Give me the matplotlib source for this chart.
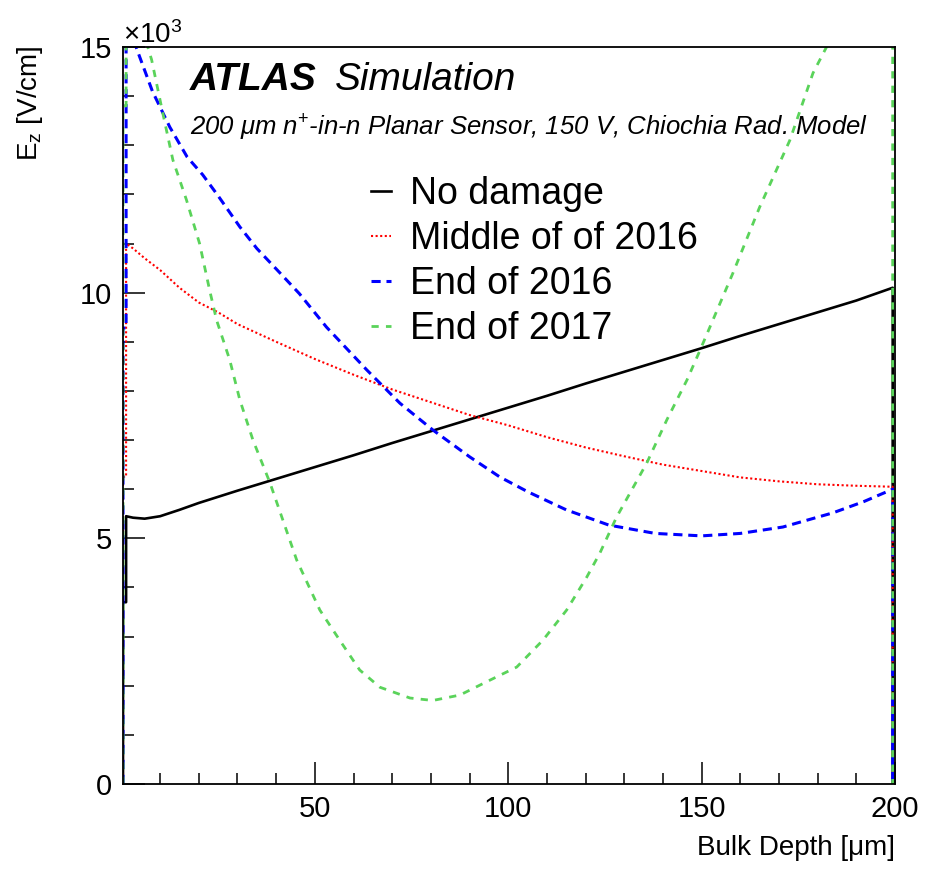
import matplotlib
matplotlib.use("Agg")
import matplotlib.pyplot as plt
from matplotlib.lines import Line2D

plt.rcParams['font.family'] = ['Liberation Sans', 'DejaVu Sans']
plt.rcParams['mathtext.fontset'] = 'custom'
plt.rcParams['mathtext.rm'] = 'Liberation Sans'
plt.rcParams['mathtext.it'] = 'Liberation Sans:italic'
plt.rcParams['mathtext.bf'] = 'Liberation Sans:bold'

# E_z in units of 10^3 V/cm
# first (narrow) bin value, then points along the bulk depth
edge_lo = 0.4
edge_1 = 1.2
edge_hi = 199.4

nodmg_first = 3.7
nodmg_depth = [1.2, 3, 6, 10, 15, 20, 30, 40, 50, 60, 70, 80, 90, 100, 110, 120,
               130, 140, 150, 160, 170, 180, 190, 199.4]
nodmg_ez = [5.45, 5.42, 5.40, 5.45, 5.58, 5.72, 5.97, 6.21, 6.45, 6.69, 6.94, 7.18,
            7.42, 7.66, 7.90, 8.15, 8.39, 8.63, 8.87, 9.12, 9.36, 9.60, 9.84, 10.1]

mid16_first = 6.25
mid16_depth = [1.2, 3, 6, 10, 15, 20, 25, 30, 40, 50, 60, 70, 80, 90, 100, 110,
               120, 130, 140, 150, 160, 170, 180, 190, 199.4]
mid16_ez = [11.0, 10.9, 10.7, 10.46, 10.1, 9.8, 9.6, 9.36, 9.0, 8.65, 8.33, 8.03,
            7.77, 7.51, 7.3, 7.06, 6.85, 6.67, 6.5, 6.37, 6.24, 6.16, 6.1, 6.07, 6.05]

end16_first = 9.28
end16_depth = [1.2, 4, 8, 12.5, 17, 21, 25, 30.6, 35, 41, 46, 53, 63.4, 72, 80.6,
               90, 97.8, 105, 115, 126, 138, 150, 160, 171, 184, 192, 199.4]
end16_ez = [15.6, 14.95, 14.1, 13.37, 12.76, 12.4, 11.97, 11.34, 10.9, 10.4, 9.98,
            9.3, 8.43, 7.75, 7.2, 6.66, 6.25, 5.95, 5.58, 5.27, 5.1, 5.05, 5.1,
            5.23, 5.52, 5.75, 6.0]

end17_first = 13.8
end17_depth = [1.2, 4, 6.8, 7.8, 10.7, 13.3, 16.8, 20.2, 22.8, 24.6, 28, 30.6, 34,
               38.4, 45.3, 51.3, 56.4, 61.6, 66.8, 74.6, 80.5, 87.5, 94.4, 102.2,
               109, 115.1, 120.3, 123.7, 128, 135.8, 141, 146.2, 149.6, 158.1, 165,
               172.8, 178.8, 182.3, 190, 199.4]
end17_ez = [18.0, 16.5, 15.0, 14.74, 13.65, 12.7, 11.89, 11.0, 10.05, 9.44, 8.63,
            7.82, 7.0, 6.13, 4.56, 3.54, 2.93, 2.32, 1.97, 1.75, 1.70, 1.81, 2.08,
            2.38, 2.93, 3.54, 4.21, 4.7, 5.43, 6.53, 7.41, 8.22, 8.83, 10.4, 11.74,
            13.1, 14.47, 15.0, 16.6, 18.5]

labels = ["No damage", "Middle of of 2016", "End of 2016", "End of 2017"]
colors = ["black", "#ff0000", "#0000ff", "#5ad35a"]


def hist_path(first, depth, ez):
    # ROOT-like outline: rise from 0 at the left edge, narrow first bin, drop to 0 at the end
    x = [edge_lo, edge_lo, edge_1] + list(depth) + [edge_hi]
    y = [0, first, first] + list(ez) + [0]
    return x, y


fig = plt.figure(figsize=(9.27, 8.94), dpi=100)
ax = fig.add_axes([123/927, 1-784/894, (895-123)/927, (784-47)/894])

styles = [
    dict(lw=1.9, ls='-'),
    dict(lw=1.5, ls=(0, (1.0, 1.2))),
    dict(lw=2.2, ls=(0, (3.0, 1.9))),
    dict(lw=2.0, ls=(0, (2.6, 2.6))),
]
series = [(nodmg_first, nodmg_depth, nodmg_ez),
          (mid16_first, mid16_depth, mid16_ez),
          (end16_first, end16_depth, end16_ez),
          (end17_first, end17_depth, end17_ez)]
handles = []
for (first, d, e), c, st, lab in zip(series, colors, styles, labels):
    x, y = hist_path(first, d, e)
    ax.plot(x, y, color=c, **st)
    handles.append(Line2D([], [], color=c, **st))

ax.set_xlim(edge_lo, 200)
ax.set_ylim(0, 15)
ax.set_xticks([50, 100, 150, 200])
ax.set_xticks(range(10, 200, 10), minor=True)
ax.set_yticks([0, 5, 10, 15])
ax.set_yticks(range(0, 16), minor=True)
ax.tick_params(which='both', direction='in', top=False, right=False, width=1.1,
               labelsize=21, pad=8)
ax.tick_params(which='major', length=16)
ax.tick_params(which='minor', length=8)
for s in ax.spines.values():
    s.set_linewidth(1.3)

fig.text(123/927, 1-43/894, r"$\times$10$^{3}$", fontsize=20, ha='left', va='baseline')
fig.text(30/927, 1-45/894, r"E$_{\mathregular{z}}$ [V/cm]", fontsize=20, rotation=90,
         ha='center', va='top')
fig.text(895/927, 1-848/894, "Bulk Depth [\u03bcm]", fontsize=20, ha='right', va='center')

fig.text(190/927, 1-80/894, "ATLAS", fontsize=28, fontweight='bold', fontstyle='italic',
         ha='left', va='center')
fig.text(335/927, 1-80/894, "Simulation", fontsize=28, fontstyle='italic',
         ha='left', va='center')
fig.text(190/927, 1-128/894, "200 \u03bcm n$^{+}$-in-n Planar Sensor, 150 V, Chiochia Rad. Model",
         fontsize=18.5, fontstyle='italic', ha='left', va='center')

leg = ax.legend(handles, labels, loc='upper left', bbox_to_anchor=(352/927, 1-157/894),
                bbox_transform=fig.transFigure, frameon=False, fontsize=27,
                handlelength=0.55, handletextpad=0.5, labelspacing=0.24, borderpad=0)

fig.savefig("out.png", dpi=100)
